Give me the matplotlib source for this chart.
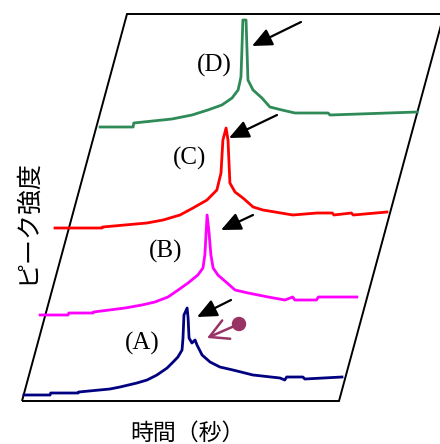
import matplotlib
matplotlib.use("Agg")
import matplotlib.pyplot as plt
import matplotlib.transforms as mtransforms
from matplotlib.patches import Polygon, Circle

plt.rcParams['font.family'] = ['Noto Sans CJK JP', 'DejaVu Sans']

# ---- data (time in s, intensity in a.u.) ----
labels = ["(A)", "(B)", "(C)", "(D)"]
colors = ["#000080", "#FF00FF", "#FF0000", "#2E8B57"]

time_A = [0, 8.2, 8.4, 17.0, 17.2, 27.0, 30.2, 35.5, 38.7, 41.8, 45.0, 46.9, 48.4, 49.7, 50.0, 50.3,
          51.3, 51.6, 51.9, 52.8, 53.8, 54.4, 56.0, 58.5, 61.6, 65.7, 72.0, 80.5, 82.0, 82.6,
          87.7, 88.3, 100.0]
inten_A = [0, 0, 2, 2, 3, 6, 8, 12, 15, 20, 27, 33, 38, 45, 57, 80,
           87, 77, 57, 52, 55, 50, 40, 33, 28, 25, 20, 17, 15, 18,
           18, 16, 18]

time_B = [-0.9, 7.9, 8.1, 15.7, 15.9, 25.8, 31.1, 35.2, 39.3, 42.5, 45.6, 48.7, 50.3, 50.9, 51.6, 52.2,
          52.8, 53.5, 55.0, 57.9, 60.4, 64.5, 70.8, 76.1, 78.5, 79.2, 86.0, 86.6, 98.7]
inten_B = [0, 0, 2, 2, 3, 7, 10, 13, 18, 25, 32, 40, 47, 60, 100, 83,
           60, 47, 40, 32, 25, 22, 18, 15, 18, 15, 15, 18, 18]

time_C = [-2.2, 12.6, 12.8, 26.7, 31.8, 37.1, 41.2, 45.6, 48.7, 50.0, 50.6, 51.6, 52.2, 52.8, 54.4,
          56.9, 60.1, 63.2, 72.6, 80.2, 85.0, 85.5, 91.0, 91.6, 102.2]
inten_C = [0, 0, 1, 5, 8, 13, 20, 28, 38, 55, 88, 100, 88, 45, 36,
           30, 21, 18, 13, 15, 15, 13, 15, 13, 16]

time_D = [6.0, 16.4, 16.6, 28.6, 34.9, 39.9, 44.3, 47.5, 49.4, 50.3, 50.6, 50.9, 51.9, 52.2, 52.5,
          54.1, 56.9, 59.4, 63.2, 67.3, 77.7, 78.3, 105.7]
inten_D = [0, 0, 4, 8, 12, 17, 22, 29, 37, 50, 77, 107, 107, 77, 47,
           37, 29, 20, 17, 14, 14, 12, 15]

series_time = [time_A, time_B, time_C, time_D]
series_inten = [inten_A, inten_B, inten_C, inten_D]

xlabel = "時間（秒）"
ylabel = "ピーク強度"

# ---- layout (pixel frame) ----
W, H = 440, 444
PX_PER_SEC = 3.18
origins = [(24, 395), (43, 315), (62, 228), (81, 127)]
frame = [(22, 401), (339, 401), (444, 14), (127, 14)]
label_pos = [(142, 343), (166, 251), (190, 158), (214, 65)]
arrows = [((231, 300), (197, 317)), ((253, 215), (221, 230)),
          ((277, 115), (229, 138)), ((301, 22), (252, 46))]

fig = plt.figure(figsize=(W / 100, H / 100), dpi=100)
ax = fig.add_axes([0, 0, 1, 1])
ax.set_xlim(0, W)
ax.set_ylim(H, 0)
ax.axis('off')

ax.add_patch(Polygon(frame, closed=True, fill=False, edgecolor='black', lw=1.4, zorder=1))

for t, I, c, (x0, y0) in zip(series_time, series_inten, colors, origins):
    tr = mtransforms.Affine2D().scale(PX_PER_SEC, -1).translate(x0, y0) + ax.transData
    ax.plot(t, I, color=c, lw=2.0, transform=tr, zorder=3)

for lab, (x, y) in zip(labels, label_pos):
    ax.text(x, y, lab, fontsize=18, family='Liberation Serif', ha='center', va='center')

for (tail, tip) in arrows:
    ax.annotate("", xy=tip, xytext=tail,
                arrowprops=dict(arrowstyle='-|>,head_length=1.0,head_width=0.45',
                                mutation_scale=12, color='black', lw=1.6,
                                shrinkA=0, shrinkB=0))

# purple pin arrow
purple = "#993366"
ax.annotate("", xy=(207, 338), xytext=(239, 324),
            arrowprops=dict(arrowstyle='->,head_length=1.1,head_width=0.6',
                            mutation_scale=12, color=purple, lw=1.8,
                            shrinkA=0, shrinkB=0))
ax.add_patch(Circle((239, 324), 6.5, color=purple, zorder=4))

ax.text(187, 433, xlabel, fontsize=16.5, ha='center', va='center')
ax.text(27, 221, ylabel, fontsize=18, rotation=90, ha='center', va='center')

fig.savefig("out.png", dpi=100)
